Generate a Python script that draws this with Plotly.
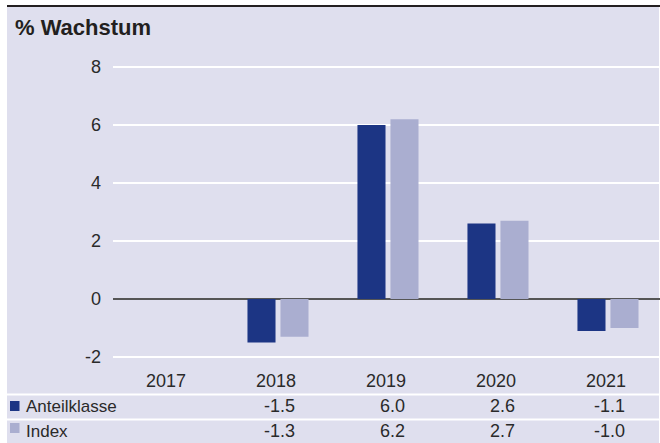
import plotly.graph_objects as go

# ---- data ----
years = ["2017", "2018", "2019", "2020", "2021"]
anteil = [None, -1.5, 6.0, 2.6, -1.1]
index_vals = [None, -1.3, 6.2, 2.7, -1.0]
series_names = ["Anteilklasse", "Index"]
y_ticks = [-2, 0, 2, 4, 6, 8]
title_text = "% Wachstum"

# ---- style ----
W, H = 660, 443
BG = "#dfdfee"
DARK = "#1c3584"
LIGHT = "#aaaed0"
TXT = "#2a2a2a"
FONT = "Liberation Sans"


def fx(px):
    return px / W


def fy(px):
    return 1 - px / H


def fmt(v):
    return "" if v is None else f"{v:.1f}"


bar_y1 = [0 if v is None else v for v in anteil]
bar_y2 = [0 if v is None else v for v in index_vals]

fig = go.Figure()
fig.add_trace(go.Bar(x=years, y=bar_y1, name=series_names[0], marker_color=DARK,
                     marker_line_width=0, showlegend=False))
fig.add_trace(go.Bar(x=years, y=bar_y2, name=series_names[1], marker_color=LIGHT,
                     marker_line_width=0, showlegend=False))

# y: value v -> pixel 299 - 29 v
y_lo, y_hi = -2.4, 8.6
dom_bottom = fy(299 - 29 * y_lo)
dom_top = fy(299 - 29 * y_hi)

fig.update_layout(
    width=W, height=H,
    margin=dict(l=0, r=0, t=0, b=0),
    paper_bgcolor="white",
    plot_bgcolor="rgba(0,0,0,0)",
    barmode="group",
    bargap=0.4,
    bargroupgap=0.15,
    font=dict(family=FONT, size=17, color=TXT),
    xaxis=dict(type="category", range=[-0.5, 4.473], domain=[fx(113), 1],
               showticklabels=False, showgrid=False, zeroline=False,
               showline=False, ticks=""),
    yaxis=dict(range=[y_lo, y_hi], domain=[dom_bottom, dom_top],
               tickvals=y_ticks, ticktext=[str(t) for t in y_ticks],
               showgrid=True, gridcolor="white", gridwidth=2,
               zeroline=True, zerolinecolor="#555555", zerolinewidth=2,
               showline=False, ticks="", ticklabelstandoff=11,
               tickfont=dict(size=18, color=TXT)),
)

shapes = [
    dict(type="rect", xref="paper", yref="paper", x0=fx(7), x1=fx(659),
         y0=0, y1=fy(7), fillcolor=BG, line_width=0, layer="below"),
    dict(type="line", xref="paper", yref="paper", x0=fx(7), x1=fx(660),
         y0=fy(6), y1=fy(6), line=dict(color="#231f20", width=2)),
    dict(type="line", xref="paper", yref="paper", x0=fx(7), x1=fx(659),
         y0=fy(394.5), y1=fy(394.5), line=dict(color="white", width=2)),
    dict(type="line", xref="paper", yref="paper", x0=fx(7), x1=fx(659),
         y0=fy(419.5), y1=fy(419.5), line=dict(color="white", width=2)),
    dict(type="rect", xref="paper", yref="paper", x0=fx(10), x1=fx(19.5),
         y0=fy(411), y1=fy(401), fillcolor=DARK, line_width=0),
    dict(type="rect", xref="paper", yref="paper", x0=fx(10), x1=fx(19.5),
         y0=fy(433), y1=fy(423), fillcolor=LIGHT, line_width=0),
]

annotations = [
    dict(text=f"<b>{title_text}</b>", xref="paper", yref="paper", x=fx(13), y=fy(28),
         xanchor="left", yanchor="middle", showarrow=False,
         font=dict(size=22, color="#231f20", family=FONT)),
    dict(text=series_names[0], xref="paper", yref="paper", x=fx(24), y=fy(406),
         xanchor="left", yanchor="middle", showarrow=False),
    dict(text=series_names[1], xref="paper", yref="paper", x=fx(24), y=fy(431),
         xanchor="left", yanchor="middle", showarrow=False),
]
for i, yr in enumerate(years):
    annotations.append(dict(text=yr, xref="x", yref="paper", x=i, y=fy(381),
                            xanchor="center", yanchor="middle", xshift=-2, showarrow=False,
                            font=dict(size=18)))
    annotations.append(dict(text=fmt(anteil[i]), xref="x", yref="paper", x=i, y=fy(406),
                            xanchor="right", yanchor="middle", xshift=19, showarrow=False,
                            font=dict(size=18)))
    annotations.append(dict(text=fmt(index_vals[i]), xref="x", yref="paper", x=i, y=fy(431),
                            xanchor="right", yanchor="middle", xshift=19, showarrow=False,
                            font=dict(size=18)))

fig.update_layout(shapes=shapes, annotations=annotations)
fig.write_html("out.html", config={"displayModeBar": False},
               post_script="document.body.style.margin='0';")
